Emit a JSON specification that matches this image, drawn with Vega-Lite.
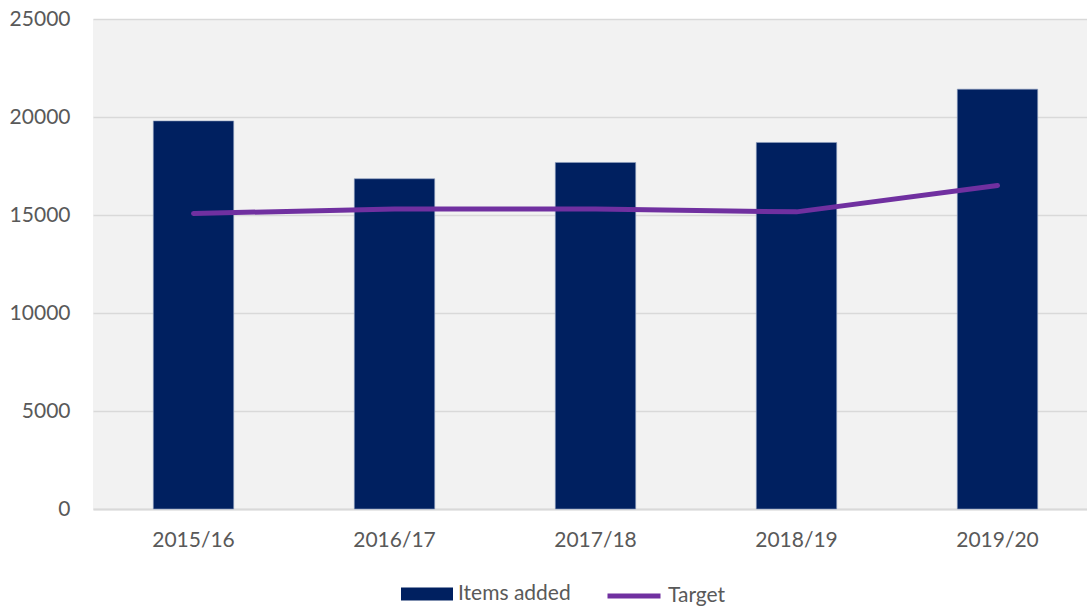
{
  "$schema": "https://vega.github.io/schema/vega-lite/v6.json",
  "width": 1005,
  "height": 490,
  "autosize": {"type": "none"},
  "padding": {"left": 93, "top": 19, "right": 0, "bottom": 98},
  "background": "white",
  "data": {"values": [
    {"year": "2015/16", "items": 19800, "target": 15080},
    {"year": "2016/17", "items": 16850, "target": 15300},
    {"year": "2017/18", "items": 17680, "target": 15300},
    {"year": "2018/19", "items": 18700, "target": 15160},
    {"year": "2019/20", "items": 21420, "target": 16500}
  ]},
  "config": {
    "font": "Lato",
    "view": {"fill": "#F2F2F2", "stroke": null},
    "axis": {"labelFont": "Lato", "labelFontSize": 21, "labelColor": "#595959", "ticks": false, "title": null},
    "legend": {"labelFont": "Lato", "labelFontSize": 21, "labelColor": "#595959"}
  },
  "encoding": {
    "x": {"field": "year", "type": "nominal", "sort": null,
      "scale": {"paddingInner": 0.6, "paddingOuter": 0.3},
      "axis": {"labelAngle": 0, "labelPadding": 20, "domainColor": "#D9D9D9", "domainWidth": 2, "grid": false}}
  },
  "layer": [
    {
      "mark": {"type": "bar", "stroke": "#8EA0C0", "strokeWidth": 0.6},
      "encoding": {
        "y": {"field": "items", "type": "quantitative",
          "scale": {"domain": [0, 25000], "nice": false},
          "axis": {"values": [0, 5000, 10000, 15000, 20000, 25000], "format": "d", "domain": false,
            "gridColor": "#D9D9D9", "gridWidth": 1.5, "labelPadding": 23}},
        "fill": {"datum": "Items added", "type": "nominal",
          "scale": {"domain": ["Items added"], "range": ["#002060"]},
          "legend": {"title": null, "orient": "none", "legendX": 308, "legendY": 549,
            "symbolType": "M-1,-0.25H1V0.25H-1Z", "symbolSize": 2704, "symbolStrokeWidth": 0, "labelOffset": 5}}
      }
    },
    {
      "mark": {"type": "line", "strokeWidth": 5, "strokeCap": "round", "strokeJoin": "round", "interpolate": "linear"},
      "encoding": {
        "y": {"field": "target", "type": "quantitative", "scale": {"domain": [0, 25000], "nice": false}},
        "stroke": {"datum": "Target", "type": "nominal",
          "scale": {"domain": ["Target"], "range": ["#7030A0"]},
          "legend": {"title": null, "orient": "none", "legendX": 512, "legendY": 548,
            "symbolType": "stroke", "symbolSize": 2809, "symbolStrokeWidth": 5, "labelOffset": 5}}
      }
    }
  ],
  "resolve": {"scale": {"y": "shared"}}
}
